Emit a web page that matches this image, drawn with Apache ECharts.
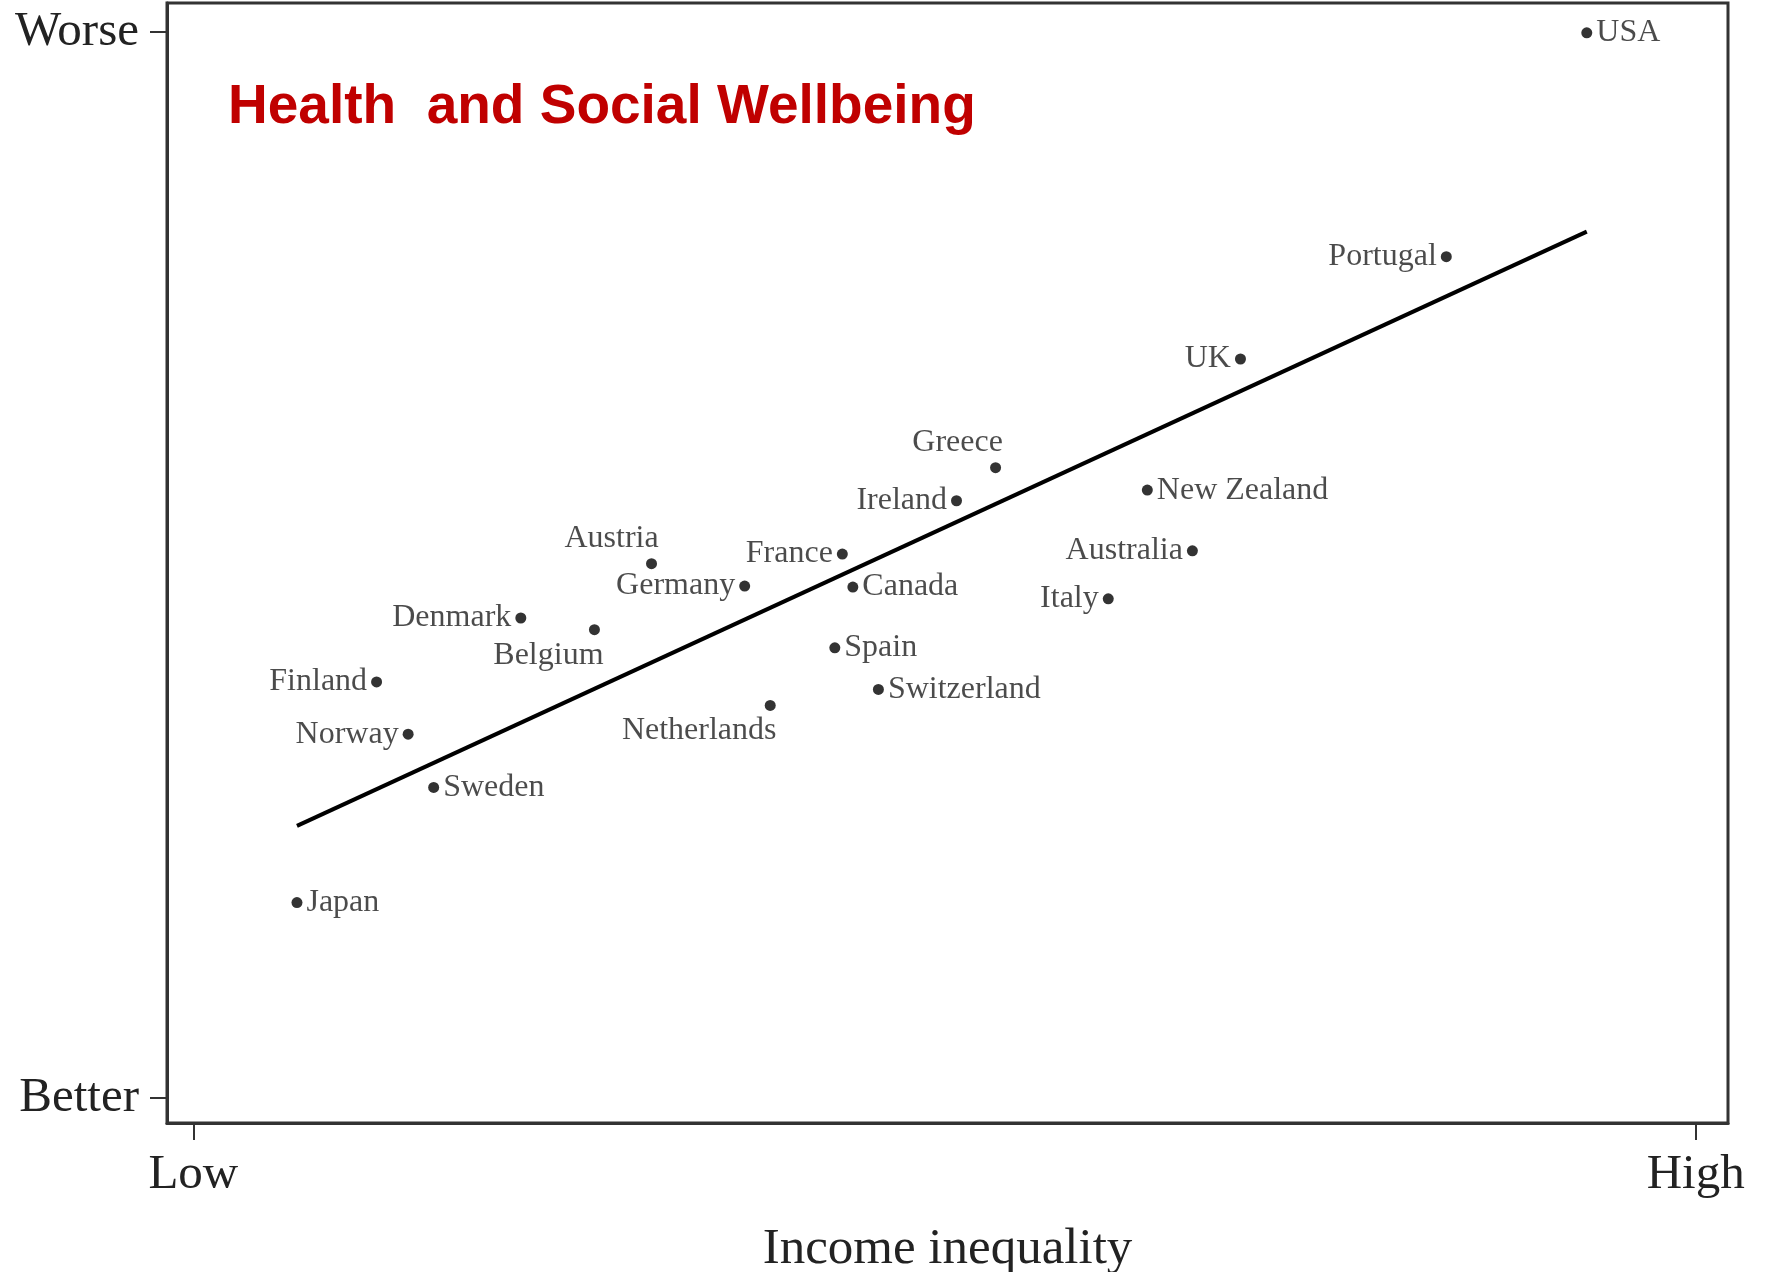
<!DOCTYPE html>
<html>
<head>
<meta charset="utf-8">
<script src="https://cdn.jsdelivr.net/npm/echarts@6/dist/echarts.min.js"></script>
<style>
html,body{margin:0;padding:0;background:#fff;}
#c{width:1770px;height:1272px;}
</style>
</head>
<body>
<div id="c"></div>
<script>
// ---- data (x: income inequality 0=Low..100=High, y: 0=Better..100=Worse)
var countries = ["USA","Portugal","UK","Greece","New Zealand","Ireland","Australia","France","Austria","Germany","Canada","Italy","Denmark","Belgium","Spain","Finland","Switzerland","Netherlands","Norway","Sweden","Japan"];
var inequality = [92.75,83.4,69.7,53.4,63.5,50.8,66.5,43.2,30.5,36.7,43.9,60.9,21.8,26.7,42.7,12.2,45.6,38.4,14.3,16.0,6.9];
var wellbeing  = [99.9,78.9,69.3,59.1,57.0,56.0,51.3,51.0,50.1,48.0,47.9,46.8,45.0,43.9,42.2,39.0,38.3,36.8,34.1,29.1,18.3];
var trendX = [6.9, 92.75];
var trendY = [25.5, 81.25];
var yTickValues = [0, 100];
var yTickLabels = ["Better", "Worse"];
var xTickValues = [0, 100];
var xTickLabels = ["Low", "High"];
var titleText = "Health  and Social Wellbeing";
var xAxisName = "Income inequality";

// ---- label placement (style, not data)
var labelPlacement = {
  "USA":{position:"right"},
  "Portugal":{position:"left"},
  "UK":{position:"left"},
  "Greece":{position:"top", offset:[-38,0]},
  "New Zealand":{position:"right"},
  "Ireland":{position:"left"},
  "Australia":{position:"left"},
  "France":{position:"left"},
  "Austria":{position:"top", offset:[-40,0]},
  "Germany":{position:"left"},
  "Canada":{position:"right"},
  "Italy":{position:"left"},
  "Denmark":{position:"left"},
  "Belgium":{position:"bottom", offset:[-46,0]},
  "Spain":{position:"right"},
  "Finland":{position:"left"},
  "Switzerland":{position:"right"},
  "Netherlands":{position:"bottom", offset:[-71,0]},
  "Norway":{position:"left"},
  "Sweden":{position:"right"},
  "Japan":{position:"right"}
};

var serif = "'Liberation Serif','DejaVu Serif',serif";
var pts = countries.map(function(c,i){
  var lp = labelPlacement[c];
  return {
    name: c,
    value: [inequality[i], wellbeing[i]],
    label: {position: lp.position, offset: lp.offset || [0,0]}
  };
});
var line = trendX.map(function(x,i){ return [x, trendY[i]]; });

var chart = echarts.init(document.getElementById('c'), null, {renderer:'canvas'});
chart.setOption({
  animation:false,
  backgroundColor:'#fff',
  graphic:[{
    type:'text', left:228, top:80,
    style:{text:titleText, fill:'#C00000', font:"bold 55px 'Liberation Sans', Arial, sans-serif"}
  }],
  grid:{left:167, top:3, right:42, bottom:149, show:true, borderColor:'#333', borderWidth:3,
        backgroundColor:'transparent', containLabel:false, outerBoundsMode:'none'},
  xAxis:{
    type:'value', min:-1.75, max:102.15,
    name:xAxisName, nameLocation:'middle', nameGap:101,
    nameTextStyle:{fontFamily:serif, fontSize:51, color:'#222'},
    axisLine:{show:true, onZero:false, lineStyle:{color:'#333', width:3}},
    splitLine:{show:false},
    axisTick:{show:true, customValues:xTickValues, length:17, lineStyle:{color:'#333', width:2}},
    axisLabel:{customValues:xTickValues, margin:28, fontFamily:serif, fontSize:49, color:'#222',
      formatter:function(v){ var k=xTickValues.indexOf(v); return k>=0?xTickLabels[k]:''; }}
  },
  yAxis:{
    type:'value', min:-2.38, max:102.7,
    axisLine:{show:true, onZero:false, lineStyle:{color:'#333', width:3}},
    splitLine:{show:false},
    axisTick:{show:true, customValues:yTickValues, length:17, lineStyle:{color:'#333', width:2}},
    axisLabel:{customValues:yTickValues, margin:28, fontFamily:serif, fontSize:49, color:'#222',
      formatter:function(v){ var k=yTickValues.indexOf(v); return k>=0?yTickLabels[k]:''; }}
  },
  series:[
    {
      type:'line', data:line, showSymbol:false, symbol:'none',
      lineStyle:{color:'#000', width:4}, z:2
    },
    {
      type:'scatter', data:pts, symbol:'circle', symbolSize:11,
      itemStyle:{color:'#000'},
      label:{show:true, formatter:'{b}', fontFamily:serif, fontSize:32, color:'#1e1e1e', distance:4},
      z:3
    }
  ]
});
</script>
</body>
</html>
